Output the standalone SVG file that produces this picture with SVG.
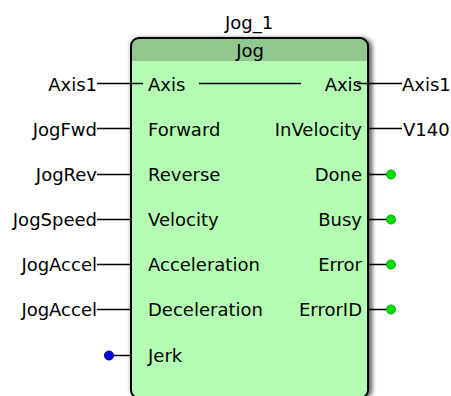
<svg xmlns="http://www.w3.org/2000/svg" width="451" height="396" viewBox="0 0 451 396">
  <defs>
    <filter id="shadow" x="-10%" y="-10%" width="120%" height="120%">
      <feGaussianBlur stdDeviation="2.2"/>
    </filter>
    <clipPath id="blockClip">
      <rect x="131" y="38" width="237" height="360" rx="8" ry="8"/>
    </clipPath>
  </defs>
  <style>
    text { font-family: "DejaVu Sans", Verdana, sans-serif; font-size: 18px; fill: #000; }
    .end { text-anchor: end; }
    .mid { text-anchor: middle; }
    .wire { stroke: #000; stroke-width: 1.5; fill: none; }
    .outDot { fill: #00e000; stroke: #00a800; stroke-width: 1; }
    .inDot { fill: #0000e0; stroke: #0000a0; stroke-width: 1; }
  </style>

  <rect width="451" height="396" fill="#fff"/>

  <!-- function block Jog_1 -->
  <g id="jog_1">
    <text class="mid" x="249" y="29">Jog_1</text>
    <rect x="130" y="37" width="242" height="362" rx="9" ry="9" fill="#bbb" filter="url(#shadow)"/>
    <rect x="134" y="39" width="238" height="360" rx="9" ry="9" fill="#444" opacity="0.7" filter="url(#shadow)"/>
    <g clip-path="url(#blockClip)">
      <rect x="131" y="38" width="237" height="360" fill="#b4feb4"/>
      <rect x="131" y="38" width="237" height="23" fill="#90c890"/>
    </g>
    <rect x="131" y="38" width="237" height="360" rx="8" ry="8" fill="none" stroke="#000" stroke-width="2"/>
    <text class="mid" x="250" y="57">Jog</text>

    <!-- inputs -->
    <text x="148" y="91">Axis</text>
    <text x="148" y="136">Forward</text>
    <text x="148" y="181">Reverse</text>
    <text x="148" y="226">Velocity</text>
    <text x="148" y="271">Acceleration</text>
    <text x="148" y="316">Deceleration</text>
    <text x="148" y="362">Jerk</text>

    <!-- outputs -->
    <text class="end" x="362" y="91">Axis</text>
    <text class="end" x="362" y="136">InVelocity</text>
    <text class="end" x="362" y="181">Done</text>
    <text class="end" x="362" y="226">Busy</text>
    <text class="end" x="362" y="271">Error</text>
    <text class="end" x="362" y="316">ErrorID</text>
  </g>

  <!-- variables wired to the block -->
  <g id="var_axis1_in"><text class="end" x="97" y="91">Axis1</text></g>
  <g id="var_jogfwd"><text class="end" x="97" y="136">JogFwd</text></g>
  <g id="var_jogrev"><text class="end" x="97" y="181">JogRev</text></g>
  <g id="var_jogspeed"><text class="end" x="97" y="226">JogSpeed</text></g>
  <g id="var_jogaccel"><text class="end" x="97" y="271">JogAccel</text></g>
  <g id="var_jogdecel"><text class="end" x="97" y="316">JogAccel</text></g>
  <g id="var_axis1_out"><text x="402" y="91">Axis1</text></g>
  <g id="var_v140"><text x="403" y="136">V140</text></g>

  <!-- connectors -->
  <g id="connectors">
    <line class="wire" x1="97" y1="83.5" x2="143" y2="83.5"/>
    <line class="wire" x1="199" y1="83.5" x2="301" y2="83.5"/>
    <line class="wire" x1="357" y1="83.5" x2="402" y2="83.5"/>
    <line class="wire" x1="97" y1="128.5" x2="131" y2="128.5"/>
    <line class="wire" x1="97" y1="174.5" x2="131" y2="174.5"/>
    <line class="wire" x1="97" y1="219.5" x2="131" y2="219.5"/>
    <line class="wire" x1="97" y1="264.5" x2="131" y2="264.5"/>
    <line class="wire" x1="97" y1="309.5" x2="131" y2="309.5"/>
    <line class="wire" x1="109" y1="355.5" x2="131" y2="355.5"/>
    <line class="wire" x1="368" y1="128.5" x2="402" y2="128.5"/>
    <line class="wire" x1="368" y1="174.5" x2="391" y2="174.5"/>
    <line class="wire" x1="368" y1="219.5" x2="391" y2="219.5"/>
    <line class="wire" x1="368" y1="264.5" x2="391" y2="264.5"/>
    <line class="wire" x1="368" y1="309.5" x2="391" y2="309.5"/>
    <circle class="outDot" cx="391" cy="174.5" r="4.5"/>
    <circle class="outDot" cx="391" cy="219.5" r="4.5"/>
    <circle class="outDot" cx="391" cy="264.5" r="4.5"/>
    <circle class="outDot" cx="391" cy="309.5" r="4.5"/>
    <circle class="inDot" cx="109" cy="355.5" r="4.5"/>
  </g>
</svg>
